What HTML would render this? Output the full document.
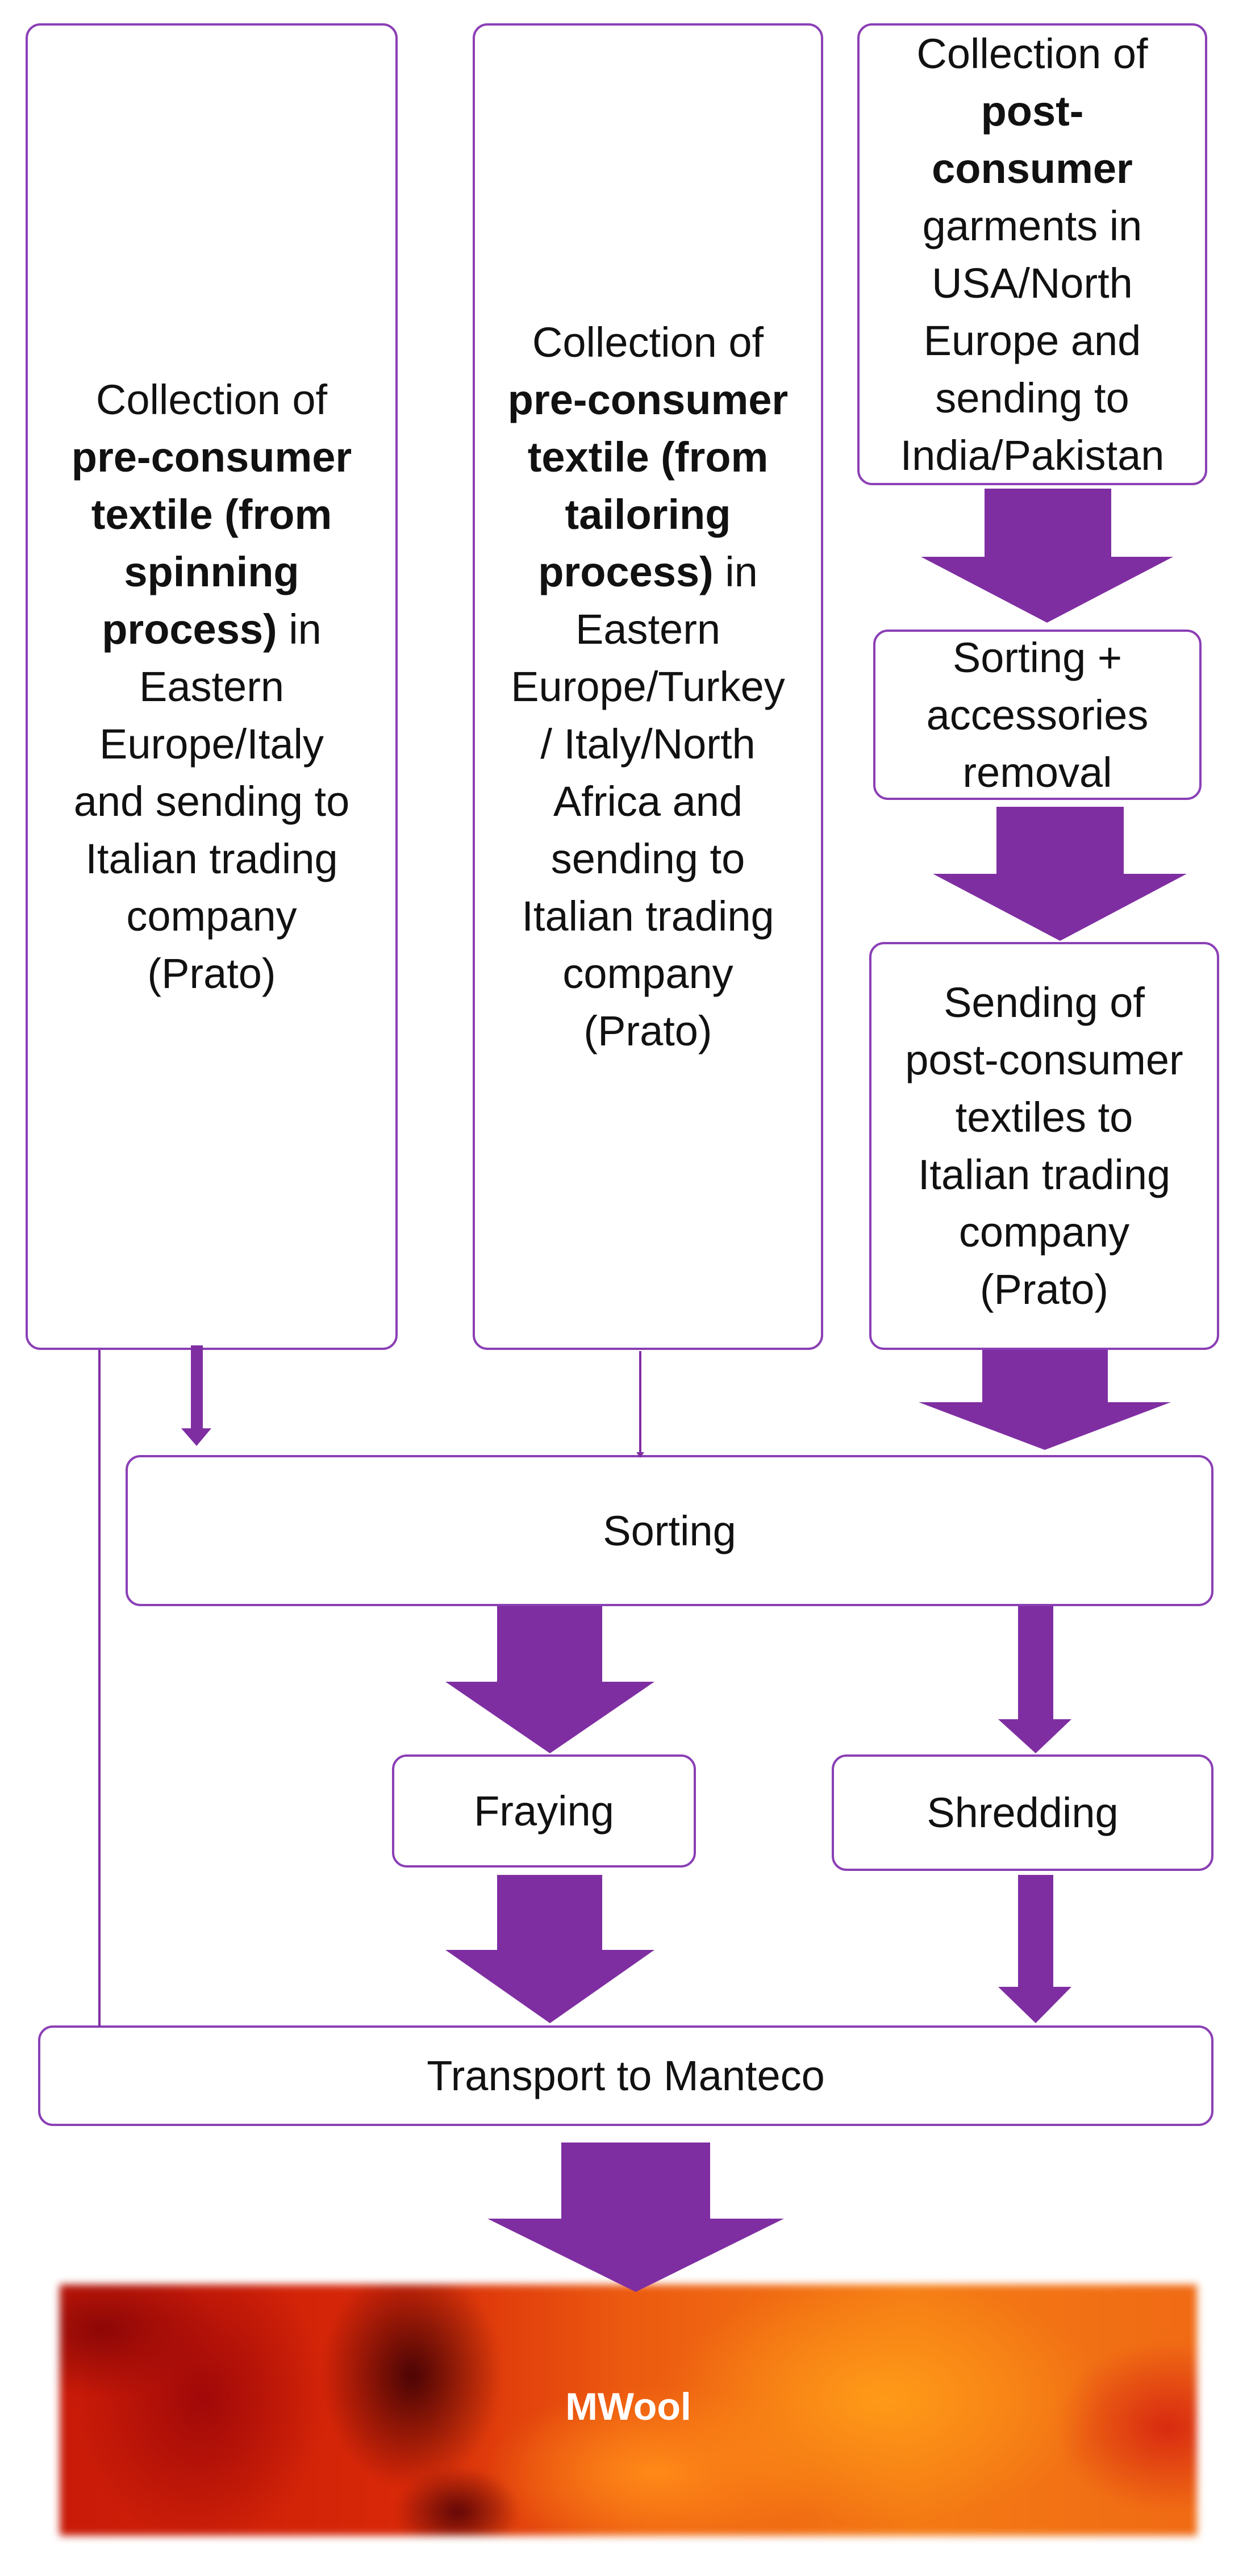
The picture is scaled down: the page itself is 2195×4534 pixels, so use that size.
<!DOCTYPE html>
<html><head><meta charset="utf-8"><style>
html,body{margin:0;padding:0;background:#fff;}
body{width:2195px;height:4534px;position:relative;overflow:hidden;font-family:"Liberation Sans",Arial,sans-serif;}
.b{position:absolute;box-sizing:border-box;border:4px solid #8b3fb5;border-radius:26px;background:#fff;display:flex;align-items:center;justify-content:center;text-align:center;font-size:74px;line-height:101px;color:#111;}
svg{position:absolute;left:0;top:0;}
.img{position:absolute;left:105px;top:4021px;width:2002px;height:442px;overflow:hidden;filter:blur(7px);
background:
radial-gradient(ellipse 160px 200px at 620px 160px,#4a0404 0%,rgba(110,8,8,0) 100%),
radial-gradient(ellipse 110px 80px at 700px 400px,#600606 0%,rgba(110,8,8,0) 100%),
radial-gradient(ellipse 220px 260px at 250px 200px,#a00808 0%,rgba(160,10,10,0) 100%),
radial-gradient(ellipse 200px 120px at 80px 80px,#8a0606 0%,rgba(160,10,10,0) 100%),
radial-gradient(ellipse 380px 220px at 1450px 200px,#ff9a18 0%,rgba(255,150,30,0) 100%),
radial-gradient(ellipse 300px 150px at 1050px 330px,#ff8a18 0%,rgba(255,150,30,0) 100%),
radial-gradient(ellipse 200px 150px at 1950px 250px,#d82a10 0%,rgba(220,40,10,0) 100%),
linear-gradient(90deg,#c81a08 0%,#d82808 30%,#ec5a10 50%,#f47a14 75%,#f06a14 100%);}
</style></head><body>

<div class="b" style="left:45px;top:41px;width:655px;height:2335px;"><div>Collection of<br><b>pre-consumer<br>textile (from<br>spinning<br>process)</b> in<br>Eastern<br>Europe/Italy<br>and sending to<br>Italian trading<br>company<br>(Prato)</div></div>

<div class="b" style="left:832px;top:41px;width:617px;height:2335px;"><div>Collection of<br><b>pre-consumer<br>textile (from<br>tailoring<br>process)</b> in<br>Eastern<br>Europe/Turkey<br>/ Italy/North<br>Africa and<br>sending to<br>Italian trading<br>company<br>(Prato)</div></div>

<div class="b" style="left:1509px;top:41px;width:616px;height:813px;"><div>Collection of<br><b>post-<br>consumer</b><br>garments in<br>USA/North<br>Europe and<br>sending to<br>India/Pakistan</div></div>

<div class="b" style="left:1537px;top:1108px;width:578px;height:300px;"><div>Sorting +<br>accessories<br>removal</div></div>

<div class="b" style="left:1530px;top:1658px;width:616px;height:718px;"><div>Sending of<br>post-consumer<br>textiles to<br>Italian trading<br>company<br>(Prato)</div></div>

<div class="b" style="left:221px;top:2561px;width:1915px;height:266px;">Sorting</div>
<div class="b" style="left:690px;top:3088px;width:535px;height:199px;">Fraying</div>
<div class="b" style="left:1464px;top:3088px;width:672px;height:205px;">Shredding</div>
<div class="b" style="left:67px;top:3565px;width:2069px;height:177px;">Transport to Manteco</div>

<div class="img"></div>
<div style="position:absolute;left:105px;top:4021px;width:2002px;height:430px;display:flex;align-items:center;justify-content:center;color:#fff;font-weight:bold;font-size:68px;">MWool</div>

<svg width="2195" height="4534" viewBox="0 0 2195 4534">
<g fill="#7f2ea2">
<polygon points="1733,860 1956,860 1956,980 2065,980 1843,1096 1621,980 1733,980"/>
<polygon points="1754,1420 1978,1420 1978,1538 2089,1538 1866,1656 1642,1538 1754,1538"/>
<polygon points="1729,2376 1950,2376 1950,2468 2061,2468 1839,2552 1617,2468 1729,2468"/>
<polygon points="336,2368 357,2368 357,2514 372,2514 346,2545 319,2514 336,2514"/>
<polygon points="875,2827 1060,2827 1060,2960 1152,2960 968,3086 784,2960 875,2960"/>
<polygon points="1792,2827 1854,2827 1854,3026 1886,3026 1823,3086 1757,3026 1792,3026"/>
<polygon points="875,3300 1060,3300 1060,3432 1152,3432 968,3561 784,3432 875,3432"/>
<polygon points="1792,3300 1854,3300 1854,3497 1886,3497 1823,3561 1757,3497 1792,3497"/>
<polygon points="988,3771 1250,3771 1250,3905 1380,3905 1119,4034 858,3905 988,3905"/>
<polygon points="1120,2556 1134,2556 1127,2566"/>
</g>
<g stroke="#7f2ea2" stroke-width="4" fill="none">
<line x1="1127" y1="2378" x2="1127" y2="2558"/>
<line x1="175" y1="2376" x2="175" y2="3567"/>
</g>
</svg>
</body></html>
